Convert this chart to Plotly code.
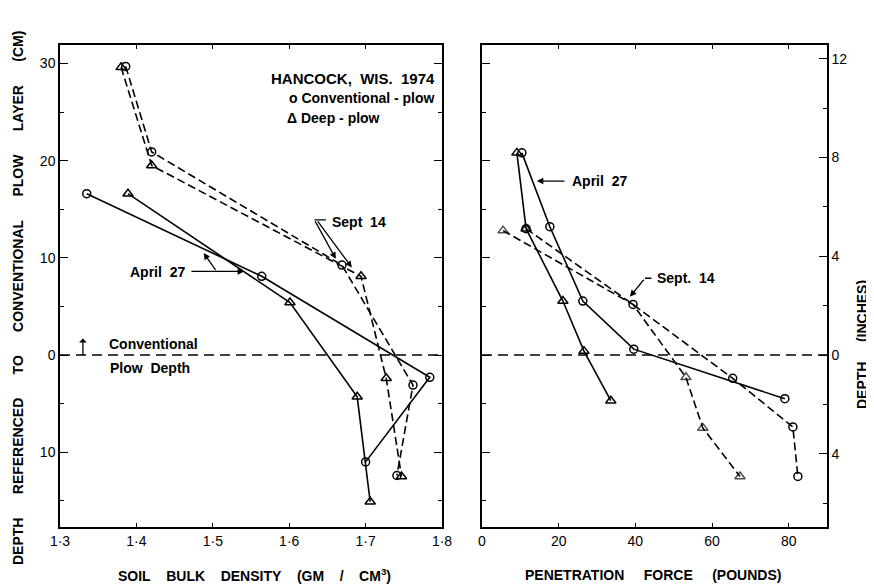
import plotly.graph_objects as go

# ---------------- data ----------------
# Soil bulk density (g/cm3) vs depth (cm)
bd_conv_sept_x = [1.386, 1.420, 1.669, 1.762, 1.741]
bd_conv_sept_y = [29.7, 20.9, 9.25, -3.1, -12.4]
bd_deep_sept_x = [1.380, 1.420, 1.694, 1.727, 1.747]
bd_deep_sept_y = [29.6, 19.5, 8.1, -2.4, -12.5]
bd_conv_apr_x = [1.335, 1.564, 1.784, 1.700]
bd_conv_apr_y = [16.6, 8.1, -2.3, -11.0]
bd_deep_apr_x = [1.389, 1.601, 1.689, 1.706]
bd_deep_apr_y = [16.6, 5.4, -4.3, -15.1]

# Penetration force (pounds) vs depth (cm)
pf_conv_apr_x = [10.4, 17.7, 26.3, 39.6, 79.0]
pf_conv_apr_y = [20.8, 13.2, 5.55, 0.6, -4.5]
pf_deep_apr_x = [9.1, 11.5, 21.1, 26.6, 33.6]
pf_deep_apr_y = [20.8, 13.0, 5.55, 0.4, -4.7]
pf_conv_sept_x = [11.5, 39.4, 65.4, 81.1, 82.4]
pf_conv_sept_y = [13.0, 5.2, -2.4, -7.4, -12.5]
pf_deep_sept_x = [5.5, 39.4, 53.2, 57.6, 67.3]
pf_deep_sept_y = [12.8, 5.2, -2.3, -7.5, -12.5]

bd_ticks = [1.3, 1.4, 1.5, 1.6, 1.7, 1.8]
bd_ticklabels = ["1·3", "1·4", "1·5", "1·6", "1·7", "1·8"]
pf_ticks = [0, 20, 40, 60, 80]
cm_ticks = [30, 20, 10, 0, -10]
cm_ticklabels = ["30", "20", "10", "0", "10"]
cm_minor = [25, 15, 5, -5, -15]
inch_ticks = [12, 8, 4, 0, -4]
inch_ticklabels = ["12", "8", "4", "0", "4"]
inch_minor = [10, 6, 2, -2, -6]

YR = [-17.7, 31.9]
FONT = "Liberation Sans"
BLACK = "black"

# page body has an 8px margin: figure is drawn at (8, 8)
OFF = 8
W, H = 874 - OFF, 587 - OFF
def px(x):
    return (x - OFF) / W
def py(y):
    return 1 - (y - OFF) / H

fig = go.Figure()

def add(x, y, xa, ya, dash, sym, sizes=8):
    fig.add_trace(go.Scatter(
        x=x, y=y, xaxis=xa, yaxis=ya, mode="lines+markers",
        line=dict(color=BLACK, width=1.6, dash=dash),
        marker=dict(symbol=sym, size=sizes, color=BLACK,
                    line=dict(width=1.5, color=BLACK)),
        showlegend=False, hoverinfo="skip"))

D = "8px,4px"
C, T = "circle-open", "triangle-up-open"
add(bd_conv_sept_x, bd_conv_sept_y, "x", "y", D, C)
add(bd_deep_sept_x, bd_deep_sept_y, "x", "y", D, T, sizes=9)
add(bd_conv_apr_x, bd_conv_apr_y, "x", "y", "solid", C)
add(bd_deep_apr_x, bd_deep_apr_y, "x", "y", "solid", T, sizes=9)

add(pf_conv_apr_x, pf_conv_apr_y, "x2", "y2", "solid", C)
add(pf_deep_apr_x, pf_deep_apr_y, "x2", "y2", "solid", T, sizes=9)
add(pf_conv_sept_x, pf_conv_sept_y, "x2", "y2", D, C)
add(pf_deep_sept_x, pf_deep_sept_y, "x2", "y2", D, T, sizes=[9, 0, 9, 9, 9])

# dashed conventional plow depth line
for xr, yr in (("x domain", "y"), ("x2 domain", "y2")):
    fig.add_shape(type="line", xref=xr, yref=yr, x0=0, x1=1, y0=0, y1=0,
                  line=dict(color=BLACK, width=1.3, dash="10px,6px"))

axis_common = dict(showline=True, linecolor=BLACK, linewidth=1.5,
                   showgrid=False, zeroline=False, ticks="inside",
                   tickcolor=BLACK, tickwidth=1.3, automargin=False,
                   tickfont=dict(family=FONT, size=14, color=BLACK))
minor_common = dict(ticklen=4, ticks="inside", tickcolor=BLACK, tickwidth=1.3)

LX = [px(60), px(442)]
RX = [px(482), px(827)]
YD = [py(527), py(45)]

fig.update_layout(
    width=W, height=H,
    margin=dict(l=0, r=0, t=0, b=0),
    paper_bgcolor="white", plot_bgcolor="white",
    xaxis=dict(domain=LX, range=[1.3, 1.8], tickvals=bd_ticks,
               ticktext=bd_ticklabels, ticklen=4, mirror="ticks",
               anchor="y", **axis_common),
    yaxis=dict(domain=YD, range=YR, tickvals=cm_ticks, ticktext=cm_ticklabels,
               ticklen=8, mirror="ticks", anchor="x",
               minor=dict(tickvals=cm_minor, **minor_common),
               **axis_common),
    xaxis2=dict(domain=RX, range=[0, 90], tickvals=pf_ticks, ticklen=4,
                mirror="ticks", anchor="y2", **axis_common),
    yaxis2=dict(domain=YD, range=YR, tickvals=cm_ticks, showticklabels=False,
                ticklen=8, mirror=True, anchor="x2",
                minor=dict(tickvals=cm_minor, **minor_common),
                **axis_common),
    yaxis3=dict(overlaying="y2", side="right", anchor="x2", range=YR,
                tickvals=[v * 2.54 for v in inch_ticks],
                ticktext=inch_ticklabels, ticklen=8,
                minor=dict(tickvals=[v * 2.54 for v in inch_minor],
                           **minor_common),
                **axis_common),
)
# dummy trace so yaxis3 is drawn
fig.add_trace(go.Scatter(x=[None], y=[None], xaxis="x2", yaxis="y3",
                         showlegend=False, hoverinfo="skip"))

NB = "\u00a0"
def sp(s, n=3):
    return s.replace(" ", NB * n)

tf = dict(family=FONT, size=14, color=BLACK, weight="bold")
af = dict(family=FONT, size=14, color=BLACK, weight="bold")

ann = []
def pa(text, x, y, anchor="center", font=af, angle=0):
    ann.append(dict(text=text, xref="paper", yref="paper", x=px(x), y=py(y),
                    xanchor=anchor, yanchor="middle", textangle=angle,
                    showarrow=False, font=font))

# axis titles
pa(sp("DEPTH REFERENCED TO CONVENTIONAL PLOW LAYER (CM)", 6), 18, 298,
   font=tf, angle=-90)
pa(sp("DEPTH (INCHES)", 5), 862, 345, font=tf, angle=-90)
pa(sp("SOIL BULK DENSITY (GM / CM<sup>3</sup>)", 4), 254, 575, font=tf)
pa(sp("PENETRATION FORCE (POUNDS)", 5), 653, 575, font=tf)

# legend block
pa("HANCOCK,  WIS.  1974", 437, 78, anchor="right",
   font=dict(family=FONT, size=15, color=BLACK, weight="bold"))
pa("o Conventional - plow", 437, 98, anchor="right")
pa("Δ Deep - plow", 285, 118, anchor="left")

def note(text, x, y, xr, yr, anchor):
    ann.append(dict(text=text, x=x, y=y, xref=xr, yref=yr, xanchor=anchor,
                    yanchor="middle", showarrow=False, font=af))

def arrow(x, y, ax, ay, xr, yr, head=2):
    ann.append(dict(text="", x=x, y=y, ax=ax, ay=ay, xref=xr, yref=yr,
                    axref=xr, ayref=yr, showarrow=True, arrowhead=head,
                    arrowwidth=1.3, arrowsize=1, arrowcolor=BLACK))

# Conventional plow depth label
note("Conventional", 1.362, 1.15, "x", "y", "left")
note("Plow  Depth", 1.363, -1.3, "x", "y", "left")
arrow(1.330, 1.7, 1.330, -0.2, "x", "y", head=1)

# Left: April 27
note("April  27", 1.466, 8.55, "x", "y", "right")
arrow(1.541, 8.6, 1.470, 8.6, "x", "y")
arrow(1.488, 10.5, 1.505, 8.6, "x", "y")

# Left: Sept 14
note("Sept  14", 1.653, 13.7, "x", "y", "left")
arrow(1.661, 9.9, 1.633, 13.9, "x", "y")
arrow(1.682, 9.0, 1.636, 13.9, "x", "y")
arrow(1.633, 13.9, 1.650, 13.9, "x", "y", head=0)

# Right: April 27
note("April  27", 23.0, 17.9, "x2", "y2", "left")
arrow(14.3, 17.9, 21.9, 17.9, "x2", "y2")

# Right: Sept. 14
note("Sept.  14", 45.0, 7.9, "x2", "y2", "left")
arrow(38.6, 6.0, 42.5, 7.9, "x2", "y2")
arrow(42.5, 7.9, 44.6, 7.9, "x2", "y2", head=0)

fig.update_layout(annotations=ann)
fig.write_html("out.html")
